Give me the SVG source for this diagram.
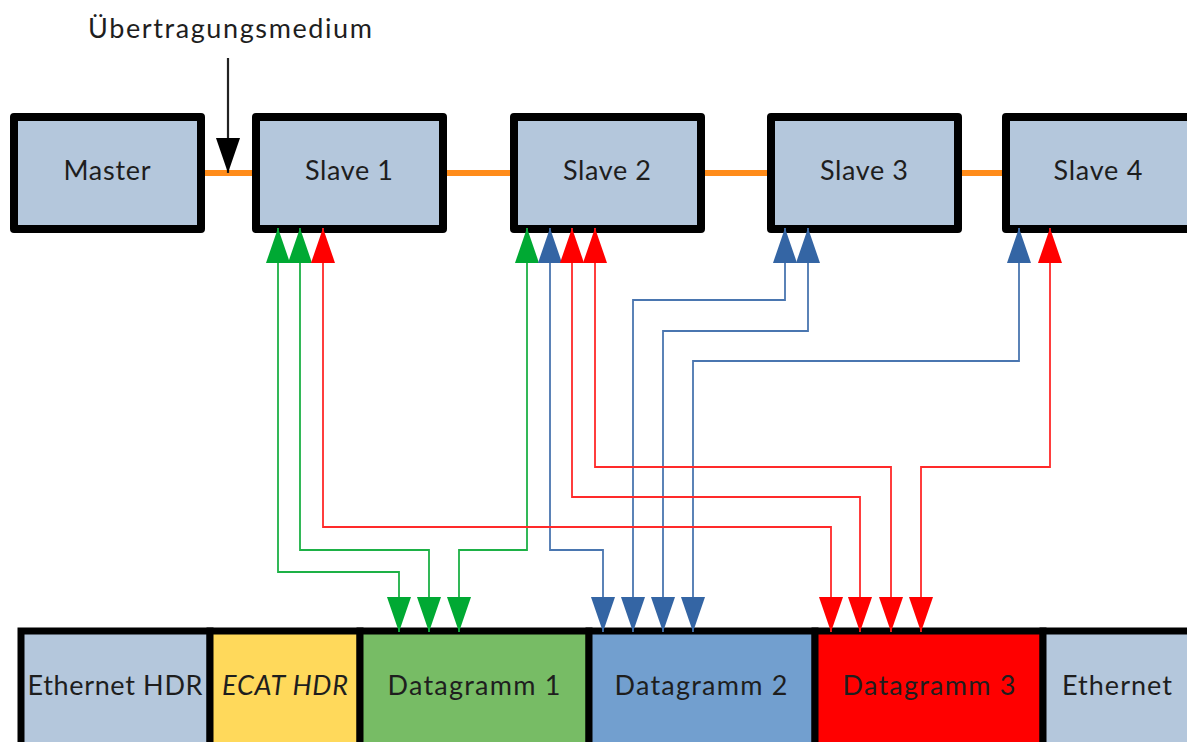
<svg xmlns="http://www.w3.org/2000/svg" width="1187" height="742" viewBox="0 0 1187 742">
  <style>
    .node { stroke: #000; stroke-width: 8; stroke-linejoin: round; }
    .top { fill: #B4C7DC; }
    .cell { stroke: #000; stroke-width: 7; }
    .lbl { font-family: Lato, "Open Sans", "Liberation Sans", sans-serif; font-size: 27px; fill: #1e1e1e; text-anchor: middle; }
    .link { stroke: #FF8C1A; stroke-width: 6; fill: none; }
    .g { stroke: #1DB146; }
    .b { stroke: #4A76B0; }
    .r { stroke: #FF2A2A; }
    .wire { fill: none; stroke-width: 1.8; }
  </style>
  <defs>
    <marker id="mk-black" markerUnits="userSpaceOnUse" markerWidth="35" markerHeight="24" refX="35" refY="12" orient="auto">
      <path d="M0,0 L35,12 L0,24 Z" fill="#000"/>
    </marker>
    <marker id="mk-green" markerUnits="userSpaceOnUse" markerWidth="35" markerHeight="24" refX="35" refY="12" orient="auto-start-reverse">
      <path d="M0,0 L35,12 L0,24 Z" fill="#00A933"/>
    </marker>
    <marker id="mk-blue" markerUnits="userSpaceOnUse" markerWidth="35" markerHeight="24" refX="35" refY="12" orient="auto-start-reverse">
      <path d="M0,0 L35,12 L0,24 Z" fill="#3465A4"/>
    </marker>
    <marker id="mk-red" markerUnits="userSpaceOnUse" markerWidth="35" markerHeight="24" refX="35" refY="12" orient="auto-start-reverse">
      <path d="M0,0 L35,12 L0,24 Z" fill="#FF0000"/>
    </marker>
  </defs>

  <rect width="1187" height="742" fill="#fff"/>

  <!-- bus segments between stations -->
  <g id="bus">
    <line class="link" x1="205" y1="173" x2="252" y2="173"/>
    <line class="link" x1="447" y1="173" x2="510" y2="173"/>
    <line class="link" x1="705" y1="173" x2="767" y2="173"/>
    <line class="link" x1="962" y1="173" x2="1002" y2="173"/>
  </g>

  <!-- transmission medium callout -->
  <g id="medium-label">
    <text class="lbl" x="230" y="38" font-size="25" textLength="284" lengthAdjust="spacing">Übertragungsmedium</text>
    <line x1="228" y1="58" x2="228" y2="173" stroke="#222" stroke-width="2.2" marker-end="url(#mk-black)"/>
  </g>

  <!-- stations -->
  <g id="master">
    <rect class="node top" x="14" y="117" width="187" height="112"/>
    <text class="lbl" x="107" y="180" textLength="87" lengthAdjust="spacing">Master</text>
  </g>
  <g id="slave1">
    <rect class="node top" x="256" y="117" width="187" height="112"/>
    <text class="lbl" x="349" y="180" textLength="88" lengthAdjust="spacing">Slave 1</text>
  </g>
  <g id="slave2">
    <rect class="node top" x="514" y="117" width="187" height="112"/>
    <text class="lbl" x="607" y="180" textLength="88" lengthAdjust="spacing">Slave 2</text>
  </g>
  <g id="slave3">
    <rect class="node top" x="771" y="117" width="187" height="112"/>
    <text class="lbl" x="864" y="180" textLength="88" lengthAdjust="spacing">Slave 3</text>
  </g>
  <g id="slave4">
    <rect class="node top" x="1006" y="117" width="187" height="112"/>
    <text class="lbl" x="1098" y="180" textLength="89" lengthAdjust="spacing">Slave 4</text>
  </g>

  <!-- EtherCAT frame -->
  <g id="eth-hdr">
    <rect class="cell" x="21" y="631" width="189" height="130" fill="#B4C7DC"/>
    <text class="lbl" x="115" y="695" textLength="175" lengthAdjust="spacing">Ethernet HDR</text>
  </g>
  <g id="ecat-hdr">
    <rect class="cell" x="210" y="631" width="150" height="130" fill="#FFD95B"/>
    <text class="lbl" x="285" y="695" font-style="italic" textLength="126" lengthAdjust="spacing">ECAT HDR</text>
  </g>
  <g id="datagram1">
    <rect class="cell" x="360" y="631" width="229" height="130" fill="#77BC65"/>
    <text class="lbl" x="474" y="695" textLength="173" lengthAdjust="spacing">Datagramm 1</text>
  </g>
  <g id="datagram2">
    <rect class="cell" x="589" y="631" width="226" height="130" fill="#729FCF"/>
    <text class="lbl" x="701" y="695" textLength="173" lengthAdjust="spacing">Datagramm 2</text>
  </g>
  <g id="datagram3">
    <rect class="cell" x="815" y="631" width="228" height="130" fill="#FF0000"/>
    <text class="lbl" x="929" y="695" textLength="173" lengthAdjust="spacing">Datagramm 3</text>
  </g>
  <g id="eth-trailer">
    <rect class="cell" x="1043" y="631" width="160" height="130" fill="#B4C7DC"/>
    <text class="lbl" x="1117" y="695" textLength="110" lengthAdjust="spacing">Ethernet</text>
  </g>

  <!-- datagram to station mappings -->
  <g id="connectors">
    <polyline class="wire g" points="278,228 278,572 399,572 399,632" marker-start="url(#mk-green)" marker-end="url(#mk-green)"/>
    <polyline class="wire g" points="300,228 300,550 429,550 429,632" marker-start="url(#mk-green)" marker-end="url(#mk-green)"/>
    <polyline class="wire g" points="527,228 527,550 459,550 459,632" marker-start="url(#mk-green)" marker-end="url(#mk-green)"/>

    <polyline class="wire b" points="550,228 550,550 603,550 603,632" marker-start="url(#mk-blue)" marker-end="url(#mk-blue)"/>
    <polyline class="wire b" points="785,228 785,300 633,300 633,632" marker-start="url(#mk-blue)" marker-end="url(#mk-blue)"/>
    <polyline class="wire b" points="808,228 808,331 663,331 663,632" marker-start="url(#mk-blue)" marker-end="url(#mk-blue)"/>
    <polyline class="wire b" points="1019,228 1019,361 693,361 693,632" marker-start="url(#mk-blue)" marker-end="url(#mk-blue)"/>

    <polyline class="wire r" points="323,228 323,527 831,527 831,632" marker-start="url(#mk-red)" marker-end="url(#mk-red)"/>
    <polyline class="wire r" points="572,228 572,497 860,497 860,632" marker-start="url(#mk-red)" marker-end="url(#mk-red)"/>
    <polyline class="wire r" points="595,228 595,467 891,467 891,632" marker-start="url(#mk-red)" marker-end="url(#mk-red)"/>
    <polyline class="wire r" points="1050,228 1050,467 921,467 921,632" marker-start="url(#mk-red)" marker-end="url(#mk-red)"/>
  </g>
</svg>
